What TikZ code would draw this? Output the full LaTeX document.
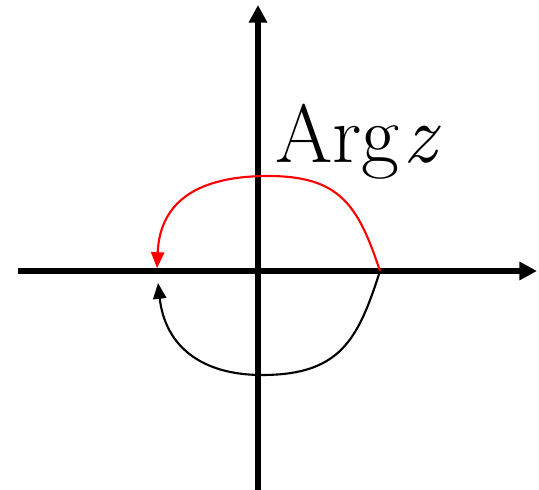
\documentclass[tikz,border=0pt]{standalone}
\usetikzlibrary{arrows.meta}

\begin{document}
\begin{tikzpicture}[x=0.02cm, y=-0.02cm,
    axis/.style={-{Triangle[length=10pt, width=10pt]}, line width=3pt},
    path/.style={-{Triangle[length=9pt, width=7.5pt]}, line width=1.2pt},
    lbl/.style={font=\fontsize{47}{52}\selectfont, inner sep=0pt, anchor=base west}
]
\useasboundingbox (0,0) rectangle (539,490);
% axes
\coordinate (west) at (18,271);
\coordinate (east) at (537,271);
\coordinate (south) at (258,490);
\coordinate (north) at (258,5);
\draw[axis] (west) -- (east);
\draw[axis] (south) -- (north);

% end points on the real axis
\coordinate (start) at (380,271);
\coordinate (upend) at (157,268);
\coordinate (downend) at (158,283);
\coordinate (top) at (268,176);
\coordinate (bot) at (262,375);

\draw[path, red] (start) .. controls (358,205) and (340,176) .. (top)
    .. controls (200,176) and (160,200) .. (upend);
\draw[path] (start) .. controls (358,340) and (340,375) .. (bot)
    .. controls (200,375) and (165,345) .. (downend);

\node[lbl] (arg) at (275,163) {Arg\kern2pt\textit{z}};
\end{tikzpicture}
\end{document}
